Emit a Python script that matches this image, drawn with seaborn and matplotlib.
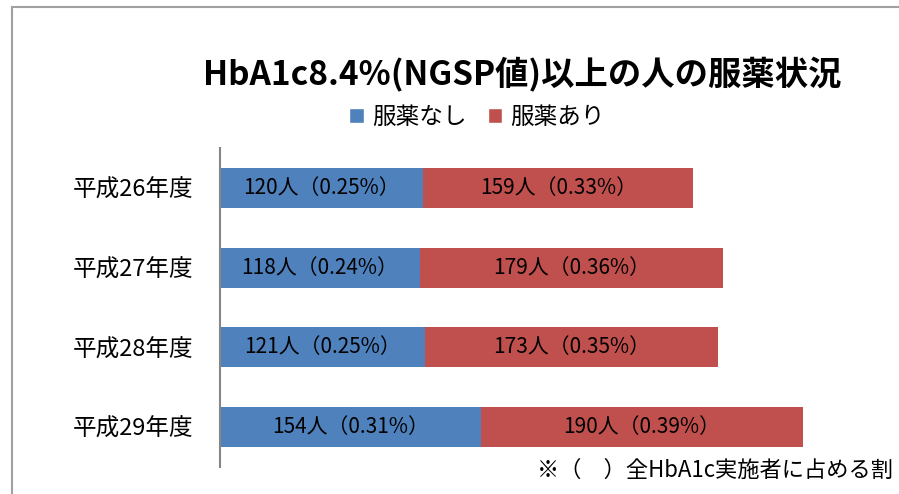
import numpy as np
import pandas as pd
import matplotlib
matplotlib.use("Agg")
import matplotlib.pyplot as plt
from matplotlib.patches import Patch, Rectangle
import seaborn as sns

years = ["平成26年度", "平成27年度", "平成28年度", "平成29年度"]
no_med = [120, 118, 121, 154]
with_med = [159, 179, 173, 190]
no_med_pct = ["0.25%", "0.24%", "0.25%", "0.31%"]
with_med_pct = ["0.33%", "0.36%", "0.35%", "0.39%"]
series_names = ["服薬なし", "服薬あり"]

blue = "#4F81BD"
red = "#C0504D"

sns.set_theme(style="white")
plt.rcParams["font.family"] = ["Noto Sans CJK JP", "DejaVu Sans"]
plt.rcParams["text.color"] = "black"
plt.rcParams["ytick.color"] = "black"

df = pd.DataFrame({"year": years, "no": no_med, "yes": with_med})
df["total"] = df["no"] + df["yes"]

fig = plt.figure(figsize=(8.99, 4.94), dpi=100)
ax = fig.add_axes([220 / 899, 1 - 467 / 494, 678 / 899, 319 / 494])

# stacked: draw total in red, then the blue part on top
sns.barplot(data=df, x="total", y="year", orient="h", color=red,
            width=0.5, saturation=1, linewidth=0, ax=ax)
sns.barplot(data=df, x="no", y="year", orient="h", color=blue,
            width=0.5, saturation=1, linewidth=0, ax=ax)

for i, r in df.iterrows():
    ax.text(r["no"] / 2, i, f"{r['no']}人（{no_med_pct[i]}）",
            ha="center", va="center", fontsize=15, color="black")
    ax.text(r["no"] + r["yes"] / 2, i, f"{r['yes']}人（{with_med_pct[i]}）",
            ha="center", va="center", fontsize=15, color="black")

ax.set_xlim(0, 400)
ax.set_ylim(3.5, -0.5)
ax.set_xlabel("")
ax.set_ylabel("")
ax.set_xticks([])
for s in ["top", "right", "bottom"]:
    ax.spines[s].set_visible(False)
ax.spines["left"].set_color("#868686")
ax.spines["left"].set_linewidth(1.5)
ax.tick_params(axis="y", length=0, pad=19, labelsize=17, labelcolor="black")

fig.text(522 / 899, 1 - 75 / 494, "HbA1c8.4%(NGSP値)以上の人の服薬状況",
         ha="center", va="center", fontsize=24, fontweight="bold", color="black")

handles = [Patch(facecolor=blue, label=series_names[0]),
           Patch(facecolor=red, label=series_names[1])]
leg = fig.legend(handles=handles, loc="center", bbox_to_anchor=(477 / 899, 1 - 117 / 494),
                 ncol=2, frameon=False, fontsize=17, handlelength=0.6, handleheight=0.6,
                 handletextpad=0.35, columnspacing=0.9)
for t in leg.get_texts():
    t.set_color("black")

fig.text(893 / 899, 1 - 470 / 494, "※（　）全HbA1c実施者に占める割",
         ha="right", va="center", fontsize=16, color="black")

fig.patches.append(Rectangle((12 / 899, -0.1), 1.2, 1 - 7 / 494 + 0.1,
                             transform=fig.transFigure, fill=False,
                             edgecolor="#A0A0A0", linewidth=1.5))

fig.savefig("out.png", dpi=100)
